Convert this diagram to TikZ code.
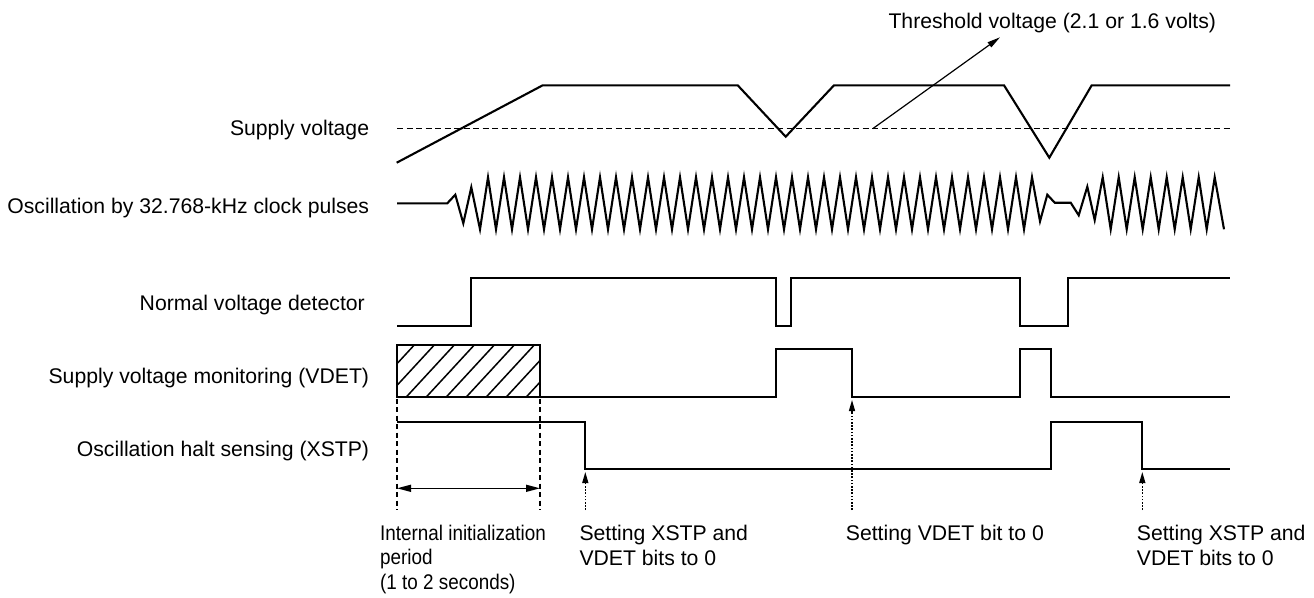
\documentclass[tikz,border=0pt]{standalone}
\usepackage{fontspec}
\setmainfont{Liberation Sans}
\newfontfamily\narrowfont[FakeStretch=0.89]{Liberation Sans}
\usetikzlibrary{arrows.meta}
\begin{document}
\begin{tikzpicture}[x=1pt,y=-1pt,
  sig/.style={line width=2.1pt, line join=miter},
  lbl/.style={font=\fontsize{21.2}{24.7}\selectfont, inner sep=0pt},
  nlbl/.style={font=\narrowfont\fontsize{21.2}{24.7}\selectfont, inner sep=0pt},
  threshline/.style={line width=1.2pt, dash pattern=on 6pt off 3.5pt},
  pointer/.style={line width=1.2pt, -{Triangle[length=13pt,width=6pt]}},
  guide/.style={line width=1.3pt, dash pattern=on 5pt off 3.5pt},
  dotarrow/.style={line width=1.3pt, dash pattern=on 1.6pt off 1.6pt, -{Triangle[length=11pt,width=6pt]}},
  spanarrow/.style={line width=1.4pt, {Triangle[length=14pt,width=7pt]}-{Triangle[length=14pt,width=7pt]}},
  hatch/.style={line width=1.5pt}
]
\useasboundingbox (0,0) rectangle (1314,597);

% ---- labels ----
\node[lbl, anchor=base east] (lsupply) at (369.3,135.5) {Supply voltage};
\node[lbl, anchor=base east] (losc) at (369.3,213.5) {Oscillation by 32.768-kHz clock pulses};
\node[lbl, anchor=base east] (lnorm) at (365,310) {Normal voltage detector};
\node[lbl, anchor=base east] (lvdet) at (369.3,383.3) {Supply voltage monitoring (VDET)};
\node[lbl, anchor=base east] (lxstp) at (369.3,456.7) {Oscillation halt sensing (XSTP)};
\node[lbl, anchor=base west] (lthr) at (888.3,28.3) {Threshold voltage (2.1 or 1.6 volts)};
\node[nlbl, anchor=base west, align=left] (linit) at (380,589.5) {Internal initialization\\period\\(1 to 2 seconds)};
\node[lbl, anchor=base west, align=left] (lset1) at (579.3,565) {Setting XSTP and\\VDET bits to 0};
\node[lbl, anchor=base west] (lset2) at (845.7,540) {Setting VDET bit to 0};
\node[lbl, anchor=base west, align=left] (lset3) at (1136.7,565) {Setting XSTP and\\VDET bits to 0};

% ---- supply voltage ----
\draw[threshline] (397,128.7) -- (1230,128.7);
\draw[sig] (396.7,162.7) -- (542.7,85.3) -- (737.7,85.3) -- (785.7,136.7) -- (834,85.3)
  -- (1004,85.3) -- (1049.3,157.7) -- (1091.7,85.3) -- (1230,85.3);
\coordinate (thrA) at (872.7,128.7);
\coordinate (thrB) at (1000,37.3);
\draw[pointer] (thrA) -- (thrB);

% ---- oscillation ----
\draw[sig] (397,203.3) -- (447.3,203.3) -- (455.3,194.7) -- (463.3,223.3) -- (471.3,187.3)
  \foreach \k in {0,...,34}{ -- ({480+16*\k},229.3) -- ({488+16*\k},177.3) }
  -- (1040,221.3) -- (1047.3,194.7) -- (1054.7,202.7) -- (1070.7,202.7) -- (1078.7,215.3)
  -- (1087.3,186.7) -- (1094.7,220) -- (1102.7,177.3)
  \foreach \k in {0,...,6}{ -- ({1110.7+16*\k},229.3) -- ({1118.7+16*\k},177.3) }
  -- (1224,229.3);

% ---- normal voltage detector ----
\draw[sig] (397,325.7) -- (471.3,325.7) -- (471.3,277.7) -- (775.7,277.7) -- (775.7,325.7)
  -- (791,325.7) -- (791,277.7) -- (1020,277.7) -- (1020,325.7) -- (1067.7,325.7)
  -- (1067.7,277.7) -- (1230,277.7);

% ---- VDET ----
\begin{scope}
  \clip (397,345.3) rectangle (540,397.3);
  \foreach \b in {346,366,...,526}{ \draw[hatch] (\b,397.3) -- ++(48,-52); }
\end{scope}
\draw[sig] (397,345.3) rectangle (540,397.3);
\draw[sig] (540,397.3) -- (775.7,397.3) -- (775.7,349.3) -- (852,349.3) -- (852,397.3)
  -- (1020,397.3) -- (1020,349.3) -- (1050.7,349.3) -- (1050.7,397.3) -- (1230,397.3);

% ---- XSTP ----
\draw[sig] (397,421.7) -- (585.3,421.7) -- (585.3,469.3) -- (1050.7,469.3) -- (1050.7,421.7)
  -- (1142.3,421.7) -- (1142.3,469.3) -- (1230,469.3);

% ---- guides and arrows ----
\coordinate (g1t) at (397,398.5);
\coordinate (g1b) at (397,510);
\coordinate (g2t) at (540,398.5);
\coordinate (g2b) at (540,510);
\draw[guide] (g1t) -- (g1b);
\draw[guide] (g2t) -- (g2b);
\coordinate (s1) at (397,488.3);
\coordinate (s2) at (540,488.3);
\draw[spanarrow] (s1) -- (s2);

\coordinate (d1b) at (585.3,510);
\coordinate (d1t) at (585.3,472);
\coordinate (d2b) at (852,510);
\coordinate (d2t) at (852,400);
\coordinate (d3b) at (1142.3,510);
\coordinate (d3t) at (1142.3,472);
\draw[dotarrow] (d1b) -- (d1t);
\draw[dotarrow] (d2b) -- (d2t);
\draw[dotarrow] (d3b) -- (d3t);
\end{tikzpicture}
\end{document}
